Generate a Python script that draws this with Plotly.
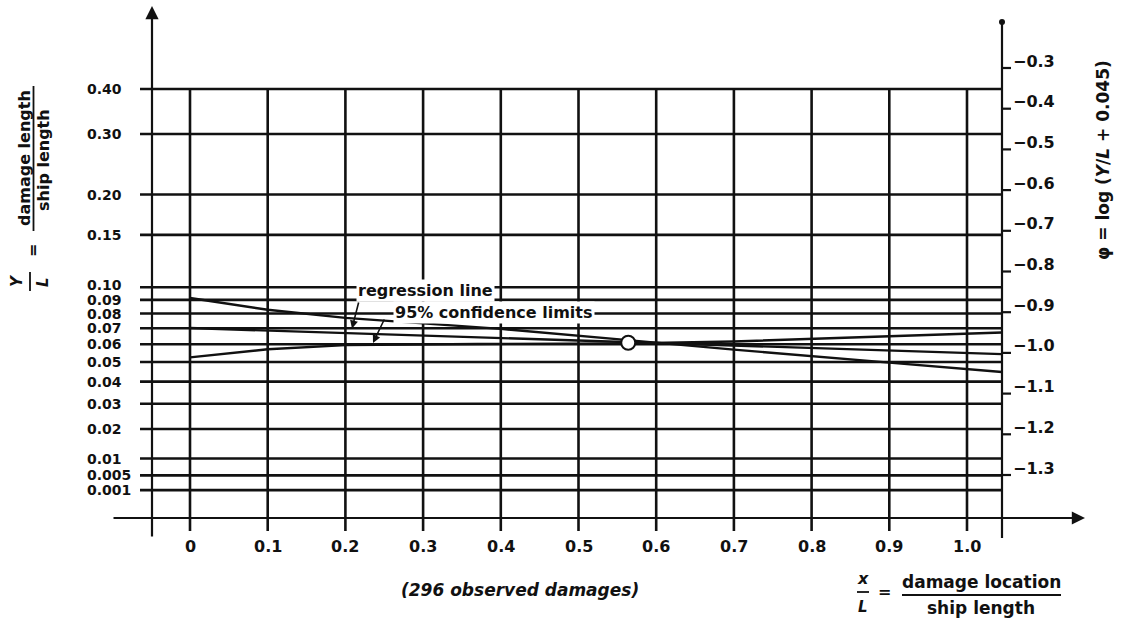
import numpy as np
import plotly.graph_objects as go

# ---------------- data ----------------
x_ticks = [0.0, 0.1, 0.2, 0.3, 0.4, 0.5, 0.6, 0.7, 0.8, 0.9, 1.0]
x_tick_labels = ["0", "0.1", "0.2", "0.3", "0.4", "0.5", "0.6", "0.7", "0.8", "0.9", "1.0"]

yl_values = [0.40, 0.30, 0.20, 0.15, 0.10, 0.09, 0.08, 0.07, 0.06, 0.05,
             0.04, 0.03, 0.02, 0.01, 0.005, 0.001]
yl_labels = ["0.40", "0.30", "0.20", "0.15", "0.10", "0.09", "0.08", "0.07", "0.06", "0.05",
             "0.04", "0.03", "0.02", "0.01", "0.005", "0.001"]

phi_ticks = [-0.3, -0.4, -0.5, -0.6, -0.7, -0.8, -0.9, -1.0, -1.1, -1.2, -1.3]
phi_labels = ["\u22120.3", "\u22120.4", "\u22120.5", "\u22120.6", "\u22120.7", "\u22120.8",
              "\u22120.9", "\u22121.0", "\u22121.1", "\u22121.2", "\u22121.3"]

# confidence limit starting high at x/L = 0
upper_x = [0.0, 0.10, 0.20, 0.40, 0.56, 0.70, 0.90, 1.045]
upper_phi = [-0.865, -0.894, -0.914, -0.941, -0.968, -0.992, -1.024, -1.047]
# regression line
reg_x = [0.0, 1.045]
reg_phi = [-0.939, -1.003]
# confidence limit starting low at x/L = 0
lower_x = [0.0, 0.10, 0.20, 0.37, 0.56, 0.70, 1.045]
lower_phi = [-1.011, -0.991, -0.981, -0.978, -0.977, -0.972, -0.950]
# mean point
mean_x = [0.564]
mean_phi = [-0.975]


# ---------------- pixel helpers (layout only) ----------------
def X(px):
    return (px - 190.0) / 777.0


def P(py):
    return -0.3 - (py - 68.0) / 407.0


def phi_of(v):
    return float(np.log10(v + 0.045))


FONT = "DejaVu Sans"
BLACK = "#111111"
LW = 2.6

fig = go.Figure()

# horizontal grid lines (positions from phi = log(Y/L + 0.045))
hx, hy = [], []
for v in yl_values:
    p = phi_of(v)
    hx += [X(140), X(1002), None]
    hy += [p, p, None]
fig.add_trace(go.Scatter(x=hx, y=hy, mode="lines", line=dict(color=BLACK, width=LW),
                         hoverinfo="skip", showlegend=False))

# vertical grid lines
top_phi = phi_of(yl_values[0])
vx, vy = [], []
for xt in x_ticks:
    vx += [xt, xt, None]
    vy += [top_phi, P(531), None]
fig.add_trace(go.Scatter(x=vx, y=vy, mode="lines", line=dict(color=BLACK, width=LW),
                         hoverinfo="skip", showlegend=False))

# right axis line and ticks
rx, ry = [X(1002), X(1002), None], [P(538), P(22), None]
for t in phi_ticks:
    rx += [X(1002), X(1011), None]
    ry += [t, t, None]
fig.add_trace(go.Scatter(x=rx, y=ry, mode="lines", line=dict(color=BLACK, width=2.2),
                         hoverinfo="skip", showlegend=False))
fig.add_trace(go.Scatter(x=[X(1002)], y=[P(22)], mode="markers",
                         marker=dict(color=BLACK, size=6), hoverinfo="skip", showlegend=False))

# regression line and confidence limits
for xs, ys in [(upper_x, upper_phi), (reg_x, reg_phi), (lower_x, lower_phi)]:
    fig.add_trace(go.Scatter(x=xs, y=ys, mode="lines", line=dict(color=BLACK, width=2.4),
                             hoverinfo="skip", showlegend=False))

fig.add_trace(go.Scatter(x=mean_x, y=mean_phi, mode="markers",
                         marker=dict(symbol="circle", size=14, color="white",
                                     line=dict(color=BLACK, width=2)),
                         hoverinfo="skip", showlegend=False))

ann = []


def txt(x, y, s, size=17, xanchor="center", yanchor="middle", angle=0, italic=False,
        bg=None, yshift=0):
    d = dict(x=x, y=y, xref="x", yref="y", text=s, showarrow=False, xanchor=xanchor,
             yanchor=yanchor, textangle=angle, yshift=yshift,
             font=dict(family=FONT, size=size, color=BLACK, weight="bold",
                       style="italic" if italic else "normal"))
    if bg:
        d["bgcolor"] = bg
        d["borderpad"] = 1
    ann.append(d)


# left axis with arrow
ann.append(dict(x=X(152), y=P(6), ax=X(152), ay=P(538), xref="x", yref="y", axref="x",
                ayref="y", text="", showarrow=True, arrowhead=2, arrowsize=1.2,
                arrowwidth=2.2, arrowcolor=BLACK))
# x axis with arrow
ann.append(dict(x=X(1085), y=P(518), ax=X(112), ay=P(518), xref="x", yref="y", axref="x",
                ayref="y", text="", showarrow=True, arrowhead=2, arrowsize=1.2,
                arrowwidth=2.2, arrowcolor=BLACK))

# tick labels (tight cluster near 0.10 slightly spread, as in the reference)
label_shift = {"0.10": 2, "0.08": -1}
for v, s in zip(yl_values, yl_labels):
    txt(X(85), phi_of(v), s, size=14, xanchor="left", yshift=label_shift.get(s, 0))
for t, s in zip(phi_ticks, phi_labels):
    txt(X(1011), t, s, size=16, xanchor="left", yshift=7)
for xt, s in zip(x_ticks, x_tick_labels):
    txt(xt, P(546), s, size=16)

# in-plot labels
txt(X(425), P(290), "regression line", size=16, bg="white")
txt(X(494), P(312), "95% confidence limits", size=16, bg="white")

# leader arrows
tip1 = X(352)
ann.append(dict(x=tip1, y=float(np.interp(tip1, reg_x, reg_phi)) + 0.012, ax=X(359),
                ay=P(301), xref="x", yref="y", axref="x", ayref="y", text="",
                showarrow=True, arrowhead=2, arrowsize=1, arrowwidth=1.6, arrowcolor=BLACK))
tip2 = X(373)
ann.append(dict(x=tip2, y=float(np.interp(tip2, lower_x, lower_phi)) + 0.005, ax=X(385),
                ay=P(318), xref="x", yref="y", axref="x", ayref="y", text="",
                showarrow=True, arrowhead=2, arrowsize=1, arrowwidth=1.6, arrowcolor=BLACK))

# left axis title: Y/L = damage length / ship length
txt(X(24), P(158), "damage length", size=16, angle=-90)
txt(X(43), P(160), "ship length", size=16, angle=-90)
txt(X(32), P(251), "=", size=16, angle=-90)
txt(X(17), P(281), "Y", size=15, angle=-90, italic=True)
txt(X(43), P(282), "L", size=15, angle=-90, italic=True)

# right axis title
txt(X(1103), P(160), "\u03c6 = log (<i>Y</i>/<i>L</i> + 0.045)", size=17, angle=-90)

# bottom texts
txt(X(520), P(590), "(296 observed damages)", size=17, italic=True)
txt(X(863), P(578), "x", size=16, italic=True)
txt(X(863), P(607), "L", size=15, italic=True)
txt(X(884), P(591), "=", size=16)
txt(X(981), P(582), "damage location", size=17)
txt(X(981), P(608), "ship length", size=17)

fig.update_layout(annotations=ann)

# fraction bars
shapes = [
    dict(type="line", xref="x", yref="y", x0=X(33.5), x1=X(33.5), y0=P(86), y1=P(231),
         line=dict(color=BLACK, width=1.8)),
    dict(type="line", xref="x", yref="y", x0=X(30), x1=X(30), y0=P(272), y1=P(291),
         line=dict(color=BLACK, width=1.8)),
    dict(type="line", xref="x", yref="y", x0=X(902), x1=X(1061), y0=P(595), y1=P(595),
         line=dict(color=BLACK, width=1.8)),
    dict(type="line", xref="x", yref="y", x0=X(857), x1=X(869), y0=P(592), y1=P(592),
         line=dict(color=BLACK, width=1.8)),
]

fig.update_layout(
    shapes=shapes,
    width=1124, height=620,
    margin=dict(l=0, r=0, t=0, b=0),
    paper_bgcolor="white", plot_bgcolor="white",
    xaxis=dict(range=[X(0), X(1124)], visible=False, fixedrange=True),
    yaxis=dict(range=[P(620), P(0)], visible=False, fixedrange=True),
    showlegend=False,
)

fig.write_html(
    "out.html",
    config={"displayModeBar": False},
    post_script="document.body.style.margin='0';document.body.style.overflow='hidden';",
)
